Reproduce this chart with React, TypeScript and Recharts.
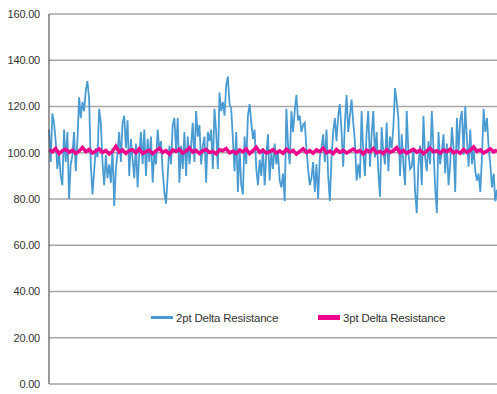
import { LineChart, Line, XAxis, YAxis, CartesianGrid } from "recharts";

const yTicks = [0, 20, 40, 60, 80, 100, 120, 140, 160];

const twoPtDelta = [
  110, 96, 117, 113, 105, 93, 100, 90, 86, 110, 96, 109, 80, 95, 99, 109, 92, 105, 124, 115, 122, 118, 127, 131, 123, 95, 82, 92, 102, 98, 119, 113, 96, 86, 99, 89, 95, 87, 102, 77, 93, 100, 109, 96, 113, 116, 102, 114, 90, 106, 97, 89, 104, 85, 100,
  109, 95, 110, 90, 106, 96, 107, 87, 100, 95, 110, 101, 105, 92, 83, 78, 90, 103, 95, 112, 115, 101, 115, 87, 103, 93, 109, 90, 107, 95, 103, 113, 96, 118, 107, 112, 95, 103, 107, 87, 109, 105, 110, 93, 119, 109, 93, 126, 118, 122, 116, 129, 133, 121,
  119, 106, 92, 109, 83, 102, 86, 82, 107, 95, 116, 121, 113, 106, 110, 93, 86, 97, 90, 102, 86, 99, 108, 88, 100, 93, 104, 95, 100, 88, 85, 91, 79, 119, 103, 95, 118, 109, 118, 125, 114, 116, 109, 112, 113, 102, 93, 86, 89, 96, 83, 95, 80, 98,
  102, 108, 96, 110, 90, 79, 98, 109, 115, 105, 116, 121, 109, 94, 113, 125, 109, 116, 123, 113, 105, 88, 95, 89, 118, 100, 90, 109, 118, 94, 108, 118, 98, 109, 92, 81, 111, 100, 95, 113, 92, 107, 102, 111, 128, 122, 115, 90, 108, 95, 86, 118, 100, 93,
  94, 102, 83, 74, 95, 103, 86, 116, 98, 92, 105, 95, 118, 102, 85, 74, 109, 95, 101, 108, 91, 104, 86, 95, 111, 102, 83, 115, 101, 114, 118, 99, 120, 106, 94, 110, 95, 102, 92, 88, 91, 83, 98, 119, 109, 115, 102, 95, 85, 91, 79, 84,
];

const threePtDelta = [
  101.2, 100.4, 101.8, 99.6, 100.9, 101.5, 100.2, 101.1, 99.8, 100.7, 102.3, 100.5, 101.4, 99.9, 100.8, 101.6, 100.1, 101.0, 99.5, 100.6,
  102.8, 100.3, 101.2, 99.7, 100.9, 101.3, 100.0, 101.7, 99.8, 100.5, 101.1, 99.6, 100.8, 101.9, 100.2, 100.9, 99.4, 101.2, 100.6, 101.5,
  99.9, 100.7, 102.1, 100.3, 101.0, 99.7, 100.8, 101.4, 100.1, 100.6, 99.5, 101.3, 100.9, 101.8, 100.0, 100.7, 99.8, 101.2, 100.4, 101.6,
  99.6, 100.9, 102.4, 100.2, 101.1, 99.9, 100.5, 101.3, 100.0, 100.8, 99.7, 101.5, 100.3, 101.0, 99.4, 100.6, 101.7, 100.1, 100.9, 99.8,
  101.2, 100.5, 102.0, 100.0, 100.7, 99.6, 101.4, 100.2, 101.0, 99.9, 100.8, 101.6, 100.3, 100.9, 99.5, 101.1, 100.4, 101.8, 100.0, 100.6,
  99.7, 101.3, 100.2, 100.9, 102.2, 100.1, 101.0, 99.8, 100.7, 101.5, 100.3, 101.1, 99.6, 100.8, 101.9, 100.4, 100.9, 99.9, 101.2, 100.5,
  101.6, 100.0, 100.7, 99.8, 101.4, 100.2, 101.0, 102.5, 100.6, 101.3, 99.9, 100.8, 101.7, 100.4, 101.2,
];

const BLUE = "#4b9bd3";
const PINK = "#ec008c";
const FONT = "'Liberation Sans', Arial, sans-serif";

const toSeries = (values: number[]) =>
  values.map((v, i) => ({ x: i / (values.length - 1), v }));

const blueData = toSeries(twoPtDelta);
const pinkData = toSeries(threePtDelta);

function LegendItem({ color, thick, label, left }: { color: string; thick: number; label: string; left: number }) {
  return (
    <div style={{ position: "absolute", left, top: 309, display: "flex", alignItems: "center", height: 17, whiteSpace: "nowrap" }}>
      <div style={{ width: 22, height: thick, background: color, marginRight: 3 }} />
      <span style={{ fontSize: 11.5, color: "#333", fontFamily: FONT, letterSpacing: -0.2 }}>{label}</span>
    </div>
  );
}

export default function App() {
  return (
    <div style={{ position: "absolute", left: 0, top: 0, width: 497, height: 394, background: "#fff" }}>
      <LineChart width={497} height={394} margin={{ top: 14, right: 0, bottom: 10, left: 0 }}>
        <CartesianGrid vertical={false} stroke="#a6a6a6" strokeWidth={1.5} />
        <XAxis type="number" dataKey="x" domain={[0, 1]} hide />
        <YAxis
          domain={[0, 160]}
          ticks={yTicks}
          width={49}
          tickLine={false}
          tickSize={0}
          tickMargin={9}
          axisLine={{ stroke: "#555", strokeWidth: 1.2 }}
          tickFormatter={(v: number) => v.toFixed(2)}
          tick={{ fill: "#333", fontSize: 11, fontFamily: FONT, letterSpacing: -0.2 }}
        />
        <Line data={blueData} dataKey="v" stroke={BLUE} strokeWidth={1.8} dot={false} isAnimationActive={false} name="2pt Delta Resistance" />
        <Line data={pinkData} dataKey="v" stroke={PINK} strokeWidth={3.5} dot={false} isAnimationActive={false} name="3pt Delta Resistance" />
      </LineChart>
      <LegendItem color={BLUE} thick={3} label="2pt Delta Resistance" left={151} />
      <LegendItem color={PINK} thick={5} label="3pt Delta Resistance" left={318} />
    </div>
  );
}
